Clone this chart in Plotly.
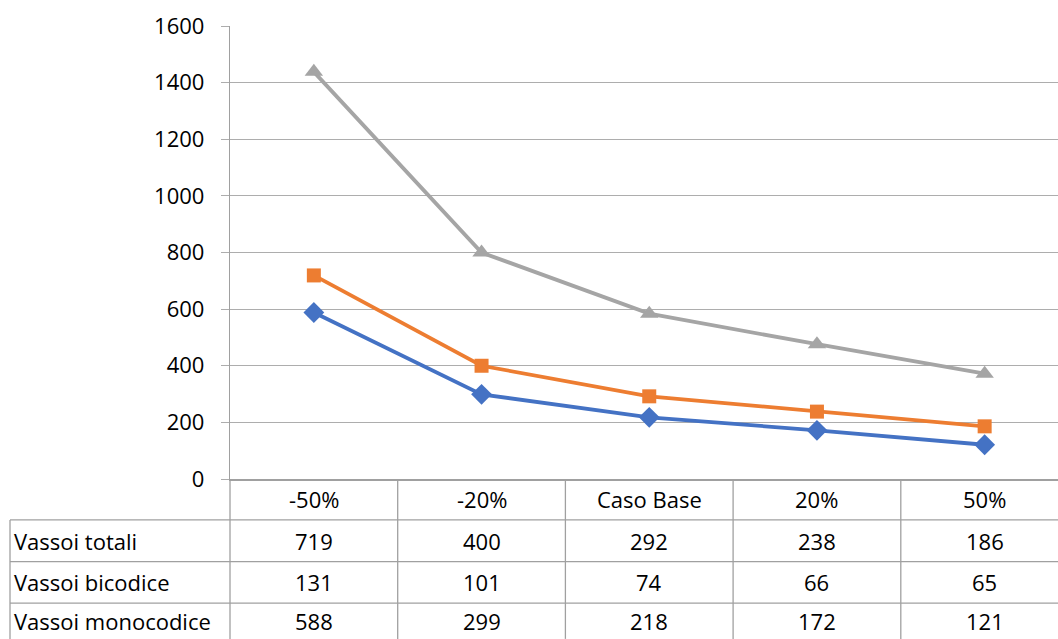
import plotly.graph_objects as go

# Scenario categories and series values
categories = ["-50%", "-20%", "Caso Base", "20%", "50%"]
vassoi_totali = [719, 400, 292, 238, 186]
vassoi_bicodice = [131, 101, 74, 66, 65]
vassoi_monocodice = [588, 299, 218, 172, 121]

row_names = ["Vassoi totali", "Vassoi bicodice", "Vassoi monocodice"]
row_values = [vassoi_totali, vassoi_bicodice, vassoi_monocodice]

y_ticks = [0, 200, 400, 600, 800, 1000, 1200, 1400, 1600]

W, H = 1058, 639
ML, MR, MT, MB = 230, 0, 25.7, 160
plot_h = H - MT - MB
col_w = 167.7
x_hi = -0.5 + (W - ML - MR) / col_w

FONT = "Open Sans"
FSIZE = 22
GRID = "#ADADAD"
LINE = "#A0A0A0"

fig = go.Figure()

x_idx = list(range(len(categories)))
series = [
    ("Vassoi monocodice", vassoi_monocodice, "#4472C4", "diamond", 16),
    ("Vassoi bicodice", vassoi_bicodice, "#ED7D31", "square", 14),
    ("Vassoi totali", vassoi_totali, "#A5A5A5", "triangle-up", 16),
]
for name, vals, color, sym, size in series:
    fig.add_trace(go.Scatter(
        x=x_idx, y=vals, name=name, mode="lines+markers",
        stackgroup="one", fill="none",
        line=dict(color=color, width=3.8),
        marker=dict(symbol=sym, size=size, color=color),
    ))


def py(pix):
    """Convert a pixel row to paper coordinates."""
    return (H - MB - pix) / plot_h


def px(pix):
    return (pix - ML) / (W - ML - MR)


y_axis = H - MB
row_edges = [y_axis, 520, 561.7, 603.3, H]
left_x = px(10)

shapes = []
# horizontal row borders
for r in row_edges[1:-1]:
    shapes.append(dict(type="line", xref="paper", yref="paper",
                       x0=left_x, x1=1, y0=py(r), y1=py(r),
                       line=dict(color=LINE, width=1.3)))
# outer left border of the row-label column
shapes.append(dict(type="line", xref="paper", yref="paper",
                   x0=left_x, x1=left_x, y0=py(row_edges[1]), y1=py(H),
                   line=dict(color=LINE, width=1.3)))
# left edge of the value columns
shapes.append(dict(type="line", xref="paper", yref="paper",
                   x0=0, x1=0, y0=py(y_axis), y1=py(H),
                   line=dict(color=LINE, width=1.3)))
# column separators
for i in range(len(categories) - 1):
    shapes.append(dict(type="line", xref="x", yref="paper",
                       x0=i + 0.5, x1=i + 0.5, y0=py(y_axis), y1=py(H),
                       line=dict(color=LINE, width=1.3)))

annotations = []
text_font = dict(family=FONT, size=FSIZE, color="#000000")
hdr_mid = (row_edges[0] + row_edges[1]) / 2
for i, c in enumerate(categories):
    annotations.append(dict(x=i, y=py(hdr_mid), xref="x", yref="paper",
                            text=c, showarrow=False, font=text_font,
                            xanchor="center", yanchor="middle"))
for r, (name, vals) in enumerate(zip(row_names, row_values)):
    mid = (row_edges[r + 1] + row_edges[r + 2]) / 2
    annotations.append(dict(x=px(12), y=py(mid), xref="paper", yref="paper",
                            text=name, showarrow=False, font=text_font,
                            xanchor="left", yanchor="middle"))
    for i, v in enumerate(vals):
        annotations.append(dict(x=i, y=py(mid), xref="x", yref="paper",
                                text=str(v), showarrow=False, font=text_font,
                                xanchor="center", yanchor="middle"))

fig.update_layout(
    width=W, height=H,
    margin=dict(l=ML, r=MR, t=MT, b=MB),
    paper_bgcolor="white", plot_bgcolor="white",
    showlegend=False,
    font=dict(family=FONT, size=FSIZE, color="#000000"),
    shapes=shapes,
    annotations=annotations,
    xaxis=dict(range=[-0.5, x_hi], showticklabels=False, showgrid=False,
               zeroline=False, showline=True, linecolor=LINE, linewidth=1.5,
               ticks=""),
    yaxis=dict(range=[0, 1600], tickvals=y_ticks, showgrid=True,
               gridcolor=GRID, gridwidth=1.2, zeroline=False,
               showline=True, linecolor=LINE, linewidth=1.3,
               ticks="outside", ticklen=8, tickcolor=GRID, tickwidth=1.2,
               ticklabelstandoff=12,
               tickfont=dict(family=FONT, size=FSIZE, color="#000000")),
)

fig.write_html("out.html")
